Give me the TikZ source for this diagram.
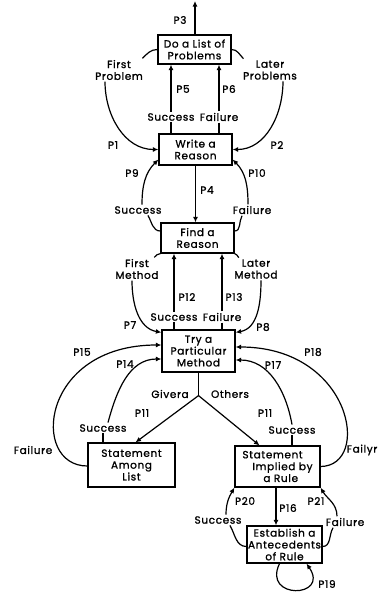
\documentclass[tikz,border=0pt]{standalone}
\usepackage{fontspec}
\setmainfont{Poppins}[LetterSpace=6, FakeBold=1.2]
\usetikzlibrary{arrows.meta}

\tikzset{
  box/.style={draw, line width=1.2pt, align=center, inner sep=1pt},
  lbl/.style={inner sep=1.5pt, align=center},
  link/.style={line width=1.2pt},
  arr/.style={link, -{Latex[length=5.5pt,width=5pt]}},
}

\begin{document}
\begin{tikzpicture}[x=1pt, y=1pt, every node/.style={font=\fontsize{10.5}{11.8}\selectfont}]
\useasboundingbox (0,0) rectangle (380,-592);

% --- Boxes ---
\node[box, minimum width=73pt, minimum height=29pt] (dolist) at (194.5,-49.5) {Do a List of\\Problems};
\node[box, minimum width=73pt, minimum height=31pt] (write) at (195.5,-149.5) {Write a\\Reason};
\node[box, minimum width=73pt, minimum height=30pt] (find) at (197.5,-238) {Find a\\Reason};
\node[box, minimum width=73pt, minimum height=42pt] (try) at (198.5,-351) {Try a\\Particular\\Method};
\node[box, minimum width=87pt, minimum height=44pt] (among) at (131.5,-465) {Statement\\Among\\List};
\node[box, minimum width=85pt, minimum height=41pt, align=left] (implied) at (277.5,-466.5) {Statement\\\hspace*{10pt}Implied by\\\hspace*{21pt}a Rule};
\node[box, minimum width=71pt, minimum height=37pt] (establish) at (284.5,-544.5) {Establish a\\Antecedents\\of Rule};

% --- Top: P3, P1, P2, P5, P6 ---
\coordinate (top) at (195,-1);
\draw[arr] (dolist.north -| top) -- (top);
\node[lbl] (p3) at (180,-20) {P3};

\node[lbl] (fp) at (119,-70) {First\\Problem};
\node[lbl] (lp) at (270,-70) {Later\\Problems};
\draw[link] (dolist.west) to[out=180,in=45] ([xshift=-2pt]fp.north east);
\draw[arr] ([xshift=-14pt]fp.south) to[out=-90,in=180] (write.west);
\draw[link] (dolist.east) to[out=0,in=135] ([xshift=2pt]lp.north west);
\draw[arr] ([xshift=13pt]lp.south) to[out=-90,in=0] (write.east);
\node[lbl] (p1) at (113,-145) {P1};
\node[lbl] (p2) at (277,-145) {P2};

\node[lbl] (s5) at (171,-117) {Success};
\node[lbl] (f6) at (219,-117) {Failure};
\draw[link] (s5) -- (s5 |- write.north);
\draw[arr] (s5) -- (s5 |- dolist.south);
\draw[link] (f6) -- (f6 |- write.north);
\draw[arr] (f6) -- (f6 |- dolist.south);
\node[lbl] (p5) at (183,-89) {P5};
\node[lbl] (p6) at (229,-89) {P6};

% --- Write a Reason / Find a Reason ---
\draw[arr] (write.south) -- (write.south |- find.north);
\node[lbl] (p4) at (207,-190) {P4};

\node[lbl] (s9) at (138,-210) {Success};
\node[lbl] (f10) at (252,-210) {Failure};
\draw[link] ([yshift=7pt]find.west) to[out=180,in=-60] ([xshift=10pt]s9.south);
\draw[arr] ([xshift=4pt]s9.north) to[out=90,in=225] ([yshift=-10pt]write.west);
\draw[link] ([yshift=7pt]find.east) to[out=0,in=240] ([xshift=-10pt]f10.south);
\draw[arr] ([xshift=-4pt]f10.north) to[out=90,in=-45] ([yshift=-10pt]write.east);
\node[lbl] (p9) at (132,-173) {P9};
\node[lbl] (p10) at (257,-173) {P10};

% --- Find a Reason / Try a Particular Method ---
\node[lbl] (fm) at (137,-269) {First\\Method};
\node[lbl] (lm) at (256,-269) {Later\\Method};
\draw[link] (find.south west) to[out=180,in=45] ([xshift=-6pt]fm.north east);
\draw[arr] ([xshift=-5pt]fm.south) to[out=-90,in=170] ([yshift=-3pt]try.north west);
\draw[link] (find.south east) to[out=0,in=135] ([xshift=6pt]lm.north west);
\draw[arr] ([xshift=5pt]lm.south) to[out=-90,in=10] ([yshift=-3pt]try.north east);
\node[lbl] (p7) at (130,-325) {P7};
\node[lbl] (p8) at (263,-327) {P8};

\node[lbl] (s12) at (174,-317) {Success};
\node[lbl] (f13) at (222,-317) {Failure};
\draw[link] (s12) -- (s12 |- try.north);
\draw[arr] (s12) -- (s12 |- find.south);
\draw[link] (f13) -- (f13 |- try.north);
\draw[arr] (f13) -- (f13 |- find.south);
\node[lbl] (p12) at (187,-297) {P12};
\node[lbl] (p13) at (234,-297) {P13};

% --- Split to the two statements ---
\draw[link] (try.south) -- ++(0,-23) coordinate (fork);
\draw[arr] (fork) -- ([xshift=4pt]among.north);
\draw[arr] (fork) -- ([xshift=-18pt]implied.north);
\node[lbl] (given) at (170,-394) {Givera};
\node[lbl] (others) at (230,-394) {Others};
\node[lbl] (p11a) at (142,-413) {P11};
\node[lbl] (p11b) at (265,-413) {P11};

% Statement Among List
\node[lbl] (s14) at (103,-428) {Success};
\draw[link] (s14) -- (s14 |- among.north);
\draw[arr] ([xshift=5pt]s14.north) to[out=75,in=180] ([yshift=-8pt]try.west);
\draw[arr] ([yshift=-1pt]among.west) .. controls (30,-466) and (40,-345) .. ([yshift=6pt]try.west);
\node[lbl] (fl15) at (33,-450) {Failure};
\node[lbl] (p14) at (125,-364) {P14};
\node[lbl] (p15) at (82,-352) {P15};

% Statement Implied by a Rule
\node[lbl] (s17) at (292,-430) {Success};
\draw[link] (s17) -- (s17 |- implied.north);
\draw[arr] (s17.north) to[out=100,in=0] ([yshift=-9pt]try.east);
\draw[arr] (implied.east) .. controls (372,-466) and (352,-347) .. ([yshift=4pt]try.east);
\node[lbl] (fl18) at (362,-450) {Failyr};
\node[lbl] (p17) at (273,-365) {P17};
\node[lbl] (p18) at (313,-352) {P18};

% --- Establish Antecedents ---
\draw[arr] ([xshift=-1.5pt]implied.south) -- ([xshift=-1.5pt]implied.south |- establish.north);
\node[lbl] (p16) at (288,-508) {P16};

\node[lbl] (s20) at (218,-520) {Success};
\node[lbl] (f21) at (345,-522) {Failure};
\draw[link] ([yshift=-2pt]establish.west) to[out=180,in=-60] ([xshift=12pt]s20.south);
\draw[arr] ([xshift=8pt]s20.north) to[out=90,in=240] (implied.south west);
\draw[link] ([yshift=-2pt]establish.east) to[out=0,in=240] ([xshift=-12pt]f21.south);
\draw[arr] ([xshift=-8pt]f21.north) to[out=90,in=-60] (implied.south east);
\node[lbl] (p20) at (245,-501) {P20};
\node[lbl] (p21) at (316,-501) {P21};

% loop
\draw[arr] ([xshift=-5pt]establish.south) .. controls (262,-600) and (330,-598) .. ([xshift=22pt]establish.south);
\node[lbl] (p19) at (327,-584) {P19};

\end{tikzpicture}
\end{document}
